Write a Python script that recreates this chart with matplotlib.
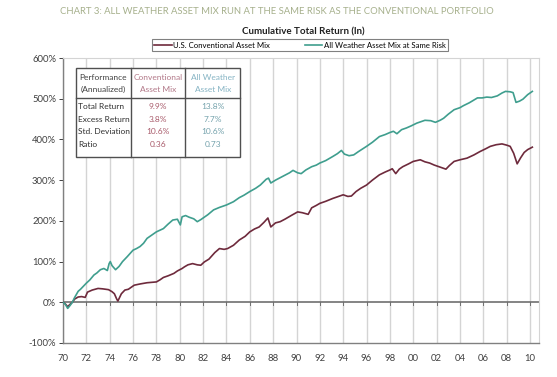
import matplotlib
matplotlib.use("Agg")
import matplotlib.pyplot as plt
from matplotlib.lines import Line2D
from matplotlib.patches import Rectangle

# Cumulative total return (%)
years_aw = [1970.0, 1970.2, 1970.4, 1970.6, 1970.8, 1971.0, 1971.3, 1971.5, 1971.7, 1972.0,
            1972.3, 1972.65, 1972.9, 1973.2, 1973.5, 1973.8, 1973.95, 1974.05, 1974.2, 1974.5,
            1974.8, 1975.1, 1975.5, 1976.0, 1976.3, 1976.6, 1976.9, 1977.2, 1977.6, 1978.0,
            1978.3, 1978.6, 1979.0, 1979.4, 1979.8, 1980.05, 1980.2, 1980.5, 1980.8, 1981.2,
            1981.5, 1981.8, 1982.0, 1982.4, 1982.9, 1983.4, 1984.0, 1984.6, 1985.1, 1985.5,
            1986.0, 1986.5, 1986.9, 1987.4, 1987.6, 1987.8, 1988.2, 1988.6, 1989.0, 1989.4,
            1989.7, 1990.1, 1990.4, 1990.8, 1991.3, 1991.7, 1992.0, 1992.5, 1993.1, 1993.5,
            1993.85, 1994.1, 1994.5, 1994.9, 1995.3, 1996.0, 1996.5, 1997.1, 1997.6, 1998.0,
            1998.3, 1998.6, 1999.0, 1999.4, 1999.8, 2000.3, 2001.0, 2001.5, 2001.9, 2002.3,
            2002.6, 2003.0, 2003.5, 2004.0, 2004.3, 2004.8, 2005.5, 2005.9, 2006.3, 2006.7,
            2007.2, 2007.6, 2007.9, 2008.3, 2008.55, 2008.8, 2009.1, 2009.4, 2009.8, 2010.2]
all_weather = [0, -5, -15, -8, 0, 12, 27, 32, 38, 47,
               55, 67, 72, 80, 83, 78, 95, 100, 90, 80,
               88, 100, 112, 128, 132, 137, 145, 157, 165, 173,
               177, 181, 192, 202, 204, 190, 210, 213, 209, 205,
               198, 203, 207, 215, 227, 233, 239, 247, 257, 263,
               272, 280, 288, 302, 305, 293, 300, 306, 312, 318,
               324, 318, 316, 325, 333, 337, 342, 348, 358, 365,
               373, 364, 360, 362, 370, 383, 393, 407, 412, 417,
               420, 414, 424, 428, 433, 440, 447, 446, 442, 447,
               452, 462, 473, 478, 483, 490, 502, 502, 504, 503,
               507, 514, 518, 517, 515, 491, 494, 499, 510, 518]

years_conv = [1970.0, 1970.2, 1970.4, 1970.6, 1970.8, 1971.0, 1971.3, 1971.6, 1971.9, 1972.1,
              1972.5, 1973.0, 1973.4, 1973.9, 1974.2, 1974.4, 1974.6, 1974.7, 1974.85, 1975.0,
              1975.3, 1975.6, 1976.1, 1976.6, 1977.2, 1977.6, 1978.0, 1978.3, 1978.6, 1979.0,
              1979.5, 1979.8, 1980.2, 1980.4, 1980.7, 1981.1, 1981.5, 1981.8, 1982.1, 1982.5,
              1983.0, 1983.4, 1983.8, 1984.1, 1984.6, 1985.1, 1985.6, 1986.0, 1986.4, 1986.8,
              1987.2, 1987.55, 1987.8, 1988.2, 1988.6, 1989.0, 1989.6, 1990.1, 1990.5, 1991.0,
              1991.3, 1991.7, 1992.0, 1992.5, 1993.1, 1993.6, 1994.0, 1994.4, 1994.7, 1995.1,
              1995.5, 1996.0, 1996.5, 1997.1, 1997.6, 1998.0, 1998.2, 1998.5, 1998.8, 1999.1,
              1999.6, 2000.0, 2000.6, 2001.0, 2001.4, 2001.8, 2002.2, 2002.8, 2003.1, 2003.5,
              2004.0, 2004.6, 2005.2, 2005.7, 2006.2, 2006.6, 2007.1, 2007.6, 2008.0, 2008.3,
              2008.6, 2008.9, 2009.2, 2009.5, 2009.8, 2010.2]
conventional = [0, -4, -11, -5, 0, 8, 13, 14, 12, 25,
                30, 34, 33, 31, 26, 21, 8, 3, 12, 21,
                30, 32, 42, 45, 48, 49, 50, 55, 61, 65,
                71, 77, 83, 87, 92, 95, 92, 91, 99, 106,
                122, 132, 130, 132, 140, 153, 162, 173, 180, 185,
                196, 207, 185, 195, 198, 204, 214, 222, 220, 216,
                232, 238, 243, 248, 255, 260, 264, 260, 261, 272,
                280, 288, 300, 313, 320, 325, 328, 316, 327, 333,
                340, 346, 350, 345, 342, 337, 333, 327, 336, 346,
                350, 354, 362, 370, 377, 383, 387, 389, 386, 383,
                366, 340, 355, 368, 375, 381]

tick_years = list(range(1970, 2011, 2))
tick_labels = ["%02d" % (y % 100) for y in tick_years]
y_ticks = [-100, 0, 100, 200, 300, 400, 500, 600]

table_rows = ["Total Return", "Excess Return", "Std. Deviation", "Ratio"]
conv_stats = ["9.9%", "3.8%", "10.6%", "0.36"]
aw_stats = ["13.8%", "7.7%", "10.6%", "0.73"]

RED = "#6e2a3c"
GREEN = "#3f9e8e"
W, H = 557, 377

plt.rcParams['font.family'] = ['Lato', 'DejaVu Sans']

fig = plt.figure(figsize=(W / 100, H / 100), dpi=100)
ax = fig.add_axes([63 / W, 1 - 343 / H, (539 - 63) / W, (343 - 58) / H])


def px(x, y):
    # pixel coords (from top-left) to figure fraction
    return x / W, 1 - y / H


ax.plot(years_conv, conventional, color=RED, lw=1.2, label="U.S. Conventional Asset Mix", zorder=3)
ax.plot(years_aw, all_weather, color=GREEN, lw=1.2, label="All Weather Asset Mix at Same Risk", zorder=3)

ax.set_xlim(1970, 2010.77)
ax.set_ylim(-100, 600)
ax.set_xticks(tick_years)
ax.set_xticklabels(tick_labels)
ax.set_yticks(y_ticks)
ax.set_yticklabels(["%d%%" % v for v in y_ticks])
ax.tick_params(labelsize=6.8, colors="#404040", length=3, width=0.7, pad=2)
ax.tick_params(axis="x", length=0, pad=8)
ax.grid(axis="x", color="#d4d4d4", lw=1.0, zorder=0)
ax.axhline(0, color="#707070", lw=1.2, zorder=2)
for t in tick_years:
    ax.plot([t, t], [-6, 0], color="#707070", lw=0.7, zorder=2)
for side in ["left", "bottom"]:
    ax.spines[side].set_color("#808080")
    ax.spines[side].set_linewidth(1.0)
for side in ["top", "right"]:
    ax.spines[side].set_color("#d4d4d4")
    ax.spines[side].set_linewidth(0.8)

# titles
fig.text(*px(277, 11), "CHART 3: ALL WEATHER ASSET MIX RUN AT THE SAME RISK AS THE CONVENTIONAL PORTFOLIO",
         ha="center", va="center", fontsize=6.8, color="#a6b08c")
fig.text(*px(303, 32), "Cumulative Total Return (ln)", ha="center", va="center",
         fontsize=7, fontweight="bold", color="#202020")

leg = fig.legend(loc="center", bbox_to_anchor=px(300, 45), ncol=2, fontsize=5.6,
                 frameon=True, fancybox=False, edgecolor="#606060", handlelength=2.2,
                 handletextpad=0.2, columnspacing=4.5, borderpad=0.35)
leg.get_frame().set_linewidth(0.8)

# stats table
tx0, tx1, ty0, ty1 = 76, 240, 68, 157
cx1, cx2, hy = 131, 185, 98
fig.patches.append(Rectangle(px(tx0, ty1), (tx1 - tx0) / W, (ty1 - ty0) / H,
                             transform=fig.transFigure, facecolor="white",
                             edgecolor="#505050", lw=1.0, zorder=5))
for xs, ys in [((tx0, tx1), (hy, hy)), ((cx1, cx1), (ty0, ty1)), ((cx2, cx2), (ty0, ty1))]:
    fig.lines.append(Line2D([xs[0] / W, xs[1] / W], [1 - ys[0] / H, 1 - ys[1] / H],
                            transform=fig.transFigure, color="#505050", lw=1.0, zorder=6))

fs = 6
fig.text(*px(103, 77), "Performance", ha="center", va="center", fontsize=fs, color="#404040", zorder=7)
fig.text(*px(103, 89), "(Annualized)", ha="center", va="center", fontsize=fs, color="#404040", zorder=7)
fig.text(*px(158, 77), "Conventional", ha="center", va="center", fontsize=fs, color="#b27888", zorder=7)
fig.text(*px(158, 89), "Asset Mix", ha="center", va="center", fontsize=fs, color="#b27888", zorder=7)
fig.text(*px(213, 77), "All Weather", ha="center", va="center", fontsize=fs, color="#86b4c4", zorder=7)
fig.text(*px(213, 89), "Asset Mix", ha="center", va="center", fontsize=fs, color="#86b4c4", zorder=7)
for i, name in enumerate(table_rows):
    y = 107 + i * 12.5
    fig.text(*px(78, y), name, ha="left", va="center", fontsize=fs, color="#303030", zorder=7)
    fig.text(*px(158, y), conv_stats[i], ha="center", va="center", fontsize=fs, color="#a85a6a", zorder=7)
    fig.text(*px(213, y), aw_stats[i], ha="center", va="center", fontsize=fs, color="#74a2ac", zorder=7)

fig.savefig("out.png", dpi=100)
